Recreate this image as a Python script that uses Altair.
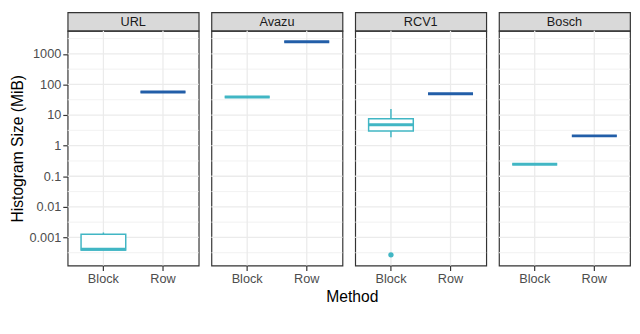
import altair as alt
import pandas as pd

# ---------------- data ----------------
datasets = ["URL", "Avazu", "RCV1", "Bosch"]
methods = ["Block", "Row"]

stat_dataset = ["URL", "URL", "Avazu", "Avazu", "RCV1", "RCV1", "Bosch", "Bosch"]
stat_method = ["Block", "Row", "Block", "Row", "Block", "Row", "Block", "Row"]
whisker_low = [0.00039, 56.6, 39.2, 2496, 1.9, 50, 0.232, 2.09]
quartile_1 = [0.00039, 56.6, 39.2, 2496, 3.03, 50, 0.246, 2.09]
medians = [0.00041, 56.6, 39.2, 2496, 4.85, 50, 0.246, 2.09]
quartile_3 = [0.00128, 56.6, 39.2, 2496, 7.55, 50, 0.246, 2.09]
whisker_high = [0.00145, 56.6, 39.2, 2496, 15.8, 50, 0.262, 2.09]

outlier_dataset = ["RCV1"]
outlier_method = ["Block"]
outlier_value = [0.00027]

major_breaks = [0.001, 0.01, 0.1, 1, 10, 100, 1000]
minor_breaks = [0.000316, 0.00316, 0.0316, 0.316, 3.16, 31.6, 316, 3162]
y_domain = [0.00012, 5660]

colors = ["#41B6C4", "#225EA8"]
y_title = "Histogram Size (MiB)"
x_title = "Method"

stats = pd.DataFrame({
    "dataset": stat_dataset, "method": stat_method,
    "lo": whisker_low, "q1": quartile_1, "median": medians,
    "q3": quartile_3, "hi": whisker_high,
})
outliers = pd.DataFrame({"dataset": outlier_dataset, "method": outlier_method,
                         "value": outlier_value})

PW, PH, SH = 134, 240, 19
GAP = 9

xscale = alt.Scale(type="band", domain=methods, paddingInner=0, paddingOuter=0.1)
yscale = alt.Scale(type="log", domain=y_domain, nice=False)
cscale = alt.Scale(domain=methods, range=colors)

xaxis = alt.Axis(title=None, labelAngle=0, domain=False, grid=False, tickSize=5,
                 tickColor="#333333", tickWidth=1.2, labelPadding=2,
                 labelFontSize=13, labelColor="#4D4D4D", labelFont="Liberation Sans")


def make_panel(name, first):
    s = stats[stats.dataset == name]
    o = outliers[outliers.dataset == name]
    if first:
        yaxis = alt.Axis(title=y_title, values=major_breaks, format="~g", grid=False,
                         domain=False, tickSize=5, tickColor="#333333", tickWidth=1.2,
                         labelPadding=2, labelFontSize=13, labelColor="#4D4D4D",
                         labelFont="Liberation Sans", titleFont="Liberation Sans",
                         titleFontSize=16, titleFontWeight="normal", titleColor="black",
                         titlePadding=4)
    else:
        yaxis = None

    def X():
        return alt.X("method:N", scale=xscale, axis=xaxis)

    def Y(field):
        return alt.Y(f"{field}:Q", scale=yscale, axis=yaxis)

    col = alt.Color("method:N", scale=cscale, legend=None)

    minor = alt.Chart(pd.DataFrame({"v": minor_breaks})).mark_rule(
        color="#F0F0F0", strokeWidth=0.9).encode(y=Y("v"))
    major = alt.Chart(pd.DataFrame({"v": major_breaks})).mark_rule(
        color="#EBEBEB", strokeWidth=1.3).encode(y=Y("v"))
    vgrid = alt.Chart(pd.DataFrame({"method": methods})).mark_rule(
        color="#EBEBEB", strokeWidth=1.3).encode(x=X())

    base = alt.Chart(s)
    whisk = base.mark_rule(strokeWidth=1.5).encode(x=X(), y=Y("lo"), y2="hi", color=col)
    box = base.mark_bar(fill="white", strokeWidth=1.5,
                        width=alt.RelativeBandSize(0.75)).encode(
        x=X(), y=Y("q1"), y2="q3",
        stroke=alt.Stroke("method:N", scale=cscale, legend=None))
    med = base.mark_tick(thickness=3, size=46, opacity=1).encode(
        x=X(), y=Y("median"), color=col)
    layers = [minor, major, vgrid, whisk, box, med]
    if len(o):
        pts = alt.Chart(o).mark_circle(size=30, opacity=1).encode(
            x=X(), y=Y("value"), color=col)
        layers.append(pts)
    plot = alt.layer(*layers).properties(width=PW, height=PH)

    strip = alt.Chart(
        pd.DataFrame({"name": [name]}),
        view=alt.ViewBackground(fill="#D9D9D9", stroke="#333333", strokeWidth=1.2),
    ).mark_text(fontSize=13, color="#1A1A1A", font="Liberation Sans",
                baseline="middle", align="center").encode(
        text="name:N", x=alt.value(PW / 2), y=alt.value(SH / 2 + 0.5)
    ).properties(width=PW, height=SH)

    return alt.vconcat(strip, plot, spacing=0, bounds="flush")


columns = [make_panel(n, i == 0) for i, n in enumerate(datasets)]
chart = alt.hconcat(*columns, spacing=GAP).properties(
    padding=0,
    title=alt.TitleParams(x_title, orient="bottom", anchor="middle", fontSize=16,
                          fontWeight="normal", font="Liberation Sans", color="black",
                          dx=33, offset=4),
).configure_view(stroke="#333333", strokeWidth=1.2)

chart.save("out.html", embed_options={"renderer": "svg", "actions": False})
